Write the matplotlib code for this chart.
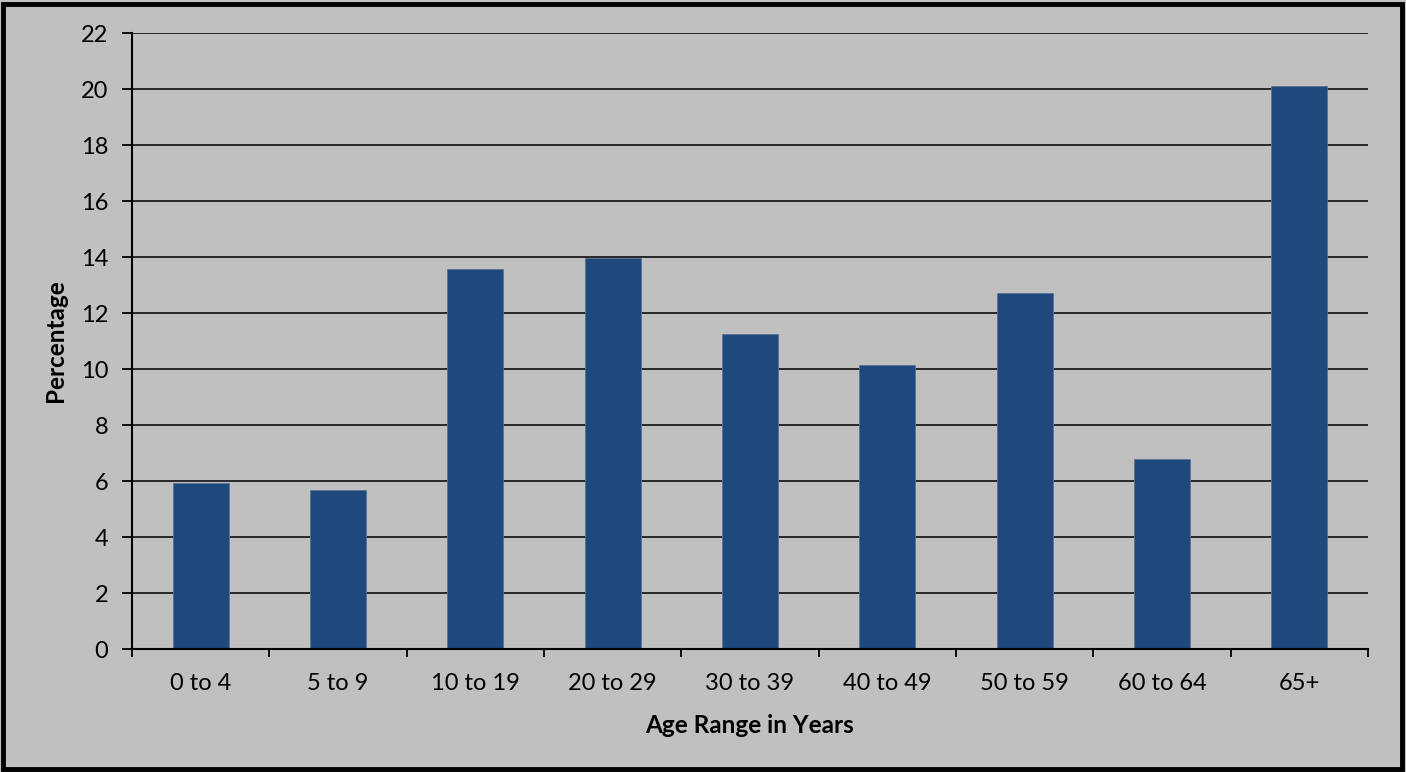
import matplotlib
matplotlib.use("Agg")
import matplotlib.pyplot as plt
from matplotlib.patches import Rectangle
import numpy as np

age_ranges = ["0 to 4", "5 to 9", "10 to 19", "20 to 29", "30 to 39",
              "40 to 49", "50 to 59", "60 to 64", "65+"]
percentages = [5.93, 5.68, 13.57, 13.96, 11.25, 10.14, 12.71, 6.79, 20.11]
y_ticks = list(range(0, 23, 2))

plt.rcParams["font.family"] = ["Lato", "DejaVu Sans"]

bg = "#C0C0C0"
bar_color = "#1F487C"
fs = 17
fs_title = 17.5

fig = plt.figure(figsize=(14.06, 7.72), dpi=100, facecolor=bg)
ax = fig.add_axes([132 / 1406, 1 - 649 / 772, (1368 - 132) / 1406, (649 - 33) / 772])
ax.set_facecolor(bg)

x = np.arange(len(age_ranges))
ax.bar(x, percentages, width=0.41, color=bar_color, edgecolor="#5A7394",
       linewidth=0.6, zorder=3)

ax.set_xlim(-0.5, len(age_ranges) - 0.5)
ax.set_ylim(0, 22)
ax.set_yticks(y_ticks)
ax.set_yticklabels([str(v) for v in y_ticks], fontsize=fs)

# category labels at bar centers, tick marks at category boundaries
ax.set_xticks(x)
ax.set_xticklabels(age_ranges, fontsize=fs)
ax.tick_params(axis="x", which="major", length=0, pad=17)
ax.set_xticks(np.arange(-0.5, len(age_ranges)), minor=True)
ax.tick_params(axis="x", which="minor", length=6, width=1.3, color="black", direction="out")
ax.tick_params(axis="y", length=7, width=1.3, color="black", direction="out", pad=10)

ax.yaxis.grid(True, color="black", linewidth=1.1, zorder=0)
ax.set_axisbelow(True)

for side in ("top", "right"):
    ax.spines[side].set_visible(False)
for side in ("left", "bottom"):
    ax.spines[side].set_linewidth(1.5)
    ax.spines[side].set_color("black")
    ax.spines[side].set_zorder(4)

ax.set_xlabel("Age Range in Years", fontsize=fs_title, fontweight="bold", labelpad=15)
ax.set_ylabel("Percentage", fontsize=fs_title, fontweight="bold", labelpad=10)

# outer chart frame
fig.patches.append(Rectangle((3 / 1406, 3 / 772), 1 - 7 / 1406, 1 - 7 / 772,
                             transform=fig.transFigure, fill=False,
                             edgecolor="black", linewidth=3.5))

fig.savefig("out.png", dpi=100, facecolor=bg)
